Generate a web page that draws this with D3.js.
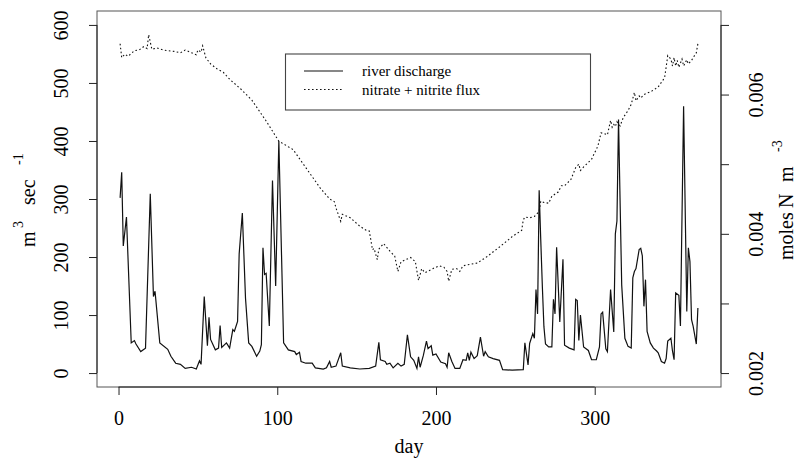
<!DOCTYPE html>
<html>
<head>
<meta charset="utf-8">
<script src="https://cdn.jsdelivr.net/npm/d3@7"></script>
<style>
  body { margin: 0; background: #fff; }
  svg, svg text { font-family: "Liberation Serif", "Times New Roman", serif; }
</style>
</head>
<body>
<svg id="chart" width="799" height="461"></svg>
<script>
// river discharge, m3 sec-1 (left axis)
var dischargeDays = [1, 2, 3, 5, 8, 10, 11, 14, 17, 20, 22, 23, 26, 31, 33, 36, 39, 42, 46, 49,
    51, 52, 54, 56, 57, 58, 61, 63, 64, 65, 68, 70, 72, 73, 75, 76, 78, 80, 82, 84,
    87, 89, 90, 91, 92, 93, 95, 97, 99, 101, 104, 107, 111, 112, 114, 115, 118, 122, 124, 129,
    131, 133, 134, 137, 140, 141, 146, 152, 158, 162, 164, 165, 168, 169, 171, 173, 176, 178, 180, 182,
    184, 186, 188, 189, 190, 192, 194, 195, 197, 198, 200, 203, 206, 207, 208, 210, 212, 215, 217, 219,
    220, 221, 222, 224, 226, 228, 230, 231, 233, 236, 240, 242, 248, 255, 256, 258, 259, 261, 262, 263,
    264, 265, 266, 267, 268, 269, 271, 273, 274, 275, 276, 278, 280, 281, 284, 287, 288, 289, 290, 291,
    293, 296, 298, 301, 303, 304, 305, 307, 308, 310, 312, 313, 314, 315, 317, 319, 321, 323, 324, 325,
    326, 328, 329, 330, 331, 332, 333, 335, 337, 339, 340, 342, 344, 345, 346, 348, 349, 350, 351, 353,
    354, 356, 358, 359, 360, 361, 362, 364, 365]
var dischargeVals = [302, 346, 219, 269, 52, 56, 50, 37, 43, 309, 132, 141, 52, 41, 29, 17, 15, 8, 10, 7,
    21, 15, 132, 47, 96, 58, 40, 43, 82, 44, 52, 43, 75, 72, 89, 205, 276, 129, 52, 46,
    29, 38, 49, 216, 170, 172, 81, 332, 150, 400, 52, 40, 37, 32, 36, 20, 17, 17, 9, 7,
    9, 20, 10, 12, 35, 12, 9, 7, 8, 12, 53, 23, 20, 15, 17, 9, 17, 12, 15, 66,
    28, 22, 8, 28, 10, 30, 55, 42, 47, 31, 33, 19, 16, 10, 35, 20, 8, 8, 23, 22,
    35, 22, 36, 25, 30, 62, 29, 37, 28, 25, 22, 6, 5, 6, 52, 14, 51, 68, 60, 144,
    102, 315, 230, 150, 80, 50, 45, 45, 127, 102, 217, 88, 196, 48, 43, 40, 127, 125, 56, 100,
    45, 39, 23, 23, 45, 102, 105, 42, 37, 144, 71, 240, 262, 437, 152, 60, 46, 43, 164, 175,
    180, 213, 215, 202, 115, 161, 72, 52, 43, 38, 35, 20, 17, 25, 55, 60, 38, 23, 138, 134,
    81, 460, 106, 216, 192, 92, 81, 50, 112]

// nitrate + nitrite flux, moles N m-3 (right axis)
var nitrateDays = [1, 2, 4, 6, 10, 13, 16, 18, 19, 21, 24, 28, 35, 39, 42, 46, 49, 50, 52, 53,
    55, 58, 62, 66, 70, 77, 84, 93, 101, 110, 118, 127, 133, 136, 137, 140, 141, 146, 152, 156,
    158, 160, 161, 163, 164, 167, 171, 174, 176, 178, 181, 184, 187, 189, 191, 193, 198, 202, 205, 207,
    208, 210, 213, 215, 217, 221, 226, 232, 240, 248, 254, 255, 256, 259, 262, 265, 266, 268, 271, 273,
    277, 279, 281, 285, 288, 290, 291, 293, 298, 302, 304, 306, 308, 310, 311, 312, 313, 314, 316, 318,
    321, 323, 325, 326, 328, 329, 331, 336, 340, 344, 345, 346, 348, 349, 350, 351, 352, 353, 355, 356,
    358, 359, 361, 362, 364, 365]
var nitrateVals = [0.00673, 0.00653, 0.00658, 0.00655, 0.00663, 0.00664, 0.00669, 0.00666, 0.00686, 0.00665,
    0.00667, 0.00664, 0.00662, 0.00660, 0.00664, 0.00660, 0.00657, 0.00664, 0.00661, 0.00670,
    0.00653, 0.00644, 0.00637, 0.00632, 0.00622, 0.00608, 0.00592, 0.00562, 0.00533, 0.00521,
    0.00495, 0.00466, 0.00450, 0.00446, 0.00437, 0.00418, 0.00428, 0.00423, 0.00411, 0.00405,
    0.00404, 0.00377, 0.00379, 0.00363, 0.00378, 0.00386, 0.00375, 0.00368, 0.00346, 0.00360,
    0.00363, 0.00366, 0.00360, 0.00333, 0.00350, 0.00344, 0.00350, 0.00354, 0.00352, 0.00346,
    0.00332, 0.00349, 0.00350, 0.00346, 0.00354, 0.00356, 0.00358, 0.00367, 0.00381, 0.00396,
    0.00405, 0.00420, 0.00424, 0.00423, 0.00425, 0.00432, 0.00447, 0.00445, 0.00444, 0.00454,
    0.00460, 0.00469, 0.00469, 0.00478, 0.00495, 0.00500, 0.00491, 0.00496, 0.00507, 0.00526,
    0.00545, 0.00544, 0.00542, 0.00563, 0.00553, 0.00557, 0.00554, 0.00561, 0.00555, 0.00567,
    0.00577, 0.00586, 0.00603, 0.00591, 0.00598, 0.00595, 0.00600, 0.00605, 0.00611, 0.00624,
    0.00639, 0.00656, 0.00651, 0.00641, 0.00653, 0.00641, 0.00649, 0.00639, 0.00651, 0.00641,
    0.00650, 0.00644, 0.00649, 0.00653, 0.00660, 0.00673]

var xTicks = [0, 100, 200, 300]
var yTicks = [0, 100, 200, 300, 400, 500, 600]
var rightTicks = [0.002, 0.003, 0.004, 0.005, 0.006, 0.007]
var legendLabels = ['river discharge', 'nitrate + nitrite flux']

const box = { left: 97, right: 721, top: 11, bottom: 387 };
const serif = '"Liberation Serif", "Times New Roman", serif'

var svg = d3.select('#chart')

// R style 4% padding around the data ranges
var xScale = d3.scaleLinear()
    .domain([1 - 0.04 * 364, 365 + 0.04 * 364])
    .range([box.left, box.right])

var yScale = d3.scaleLinear()
    .domain([0 - 0.04 * 600, 600 + 0.04 * 600])
    .range([box.bottom, box.top])

var yRight = d3.scaleLinear()
    .domain([0.002 - 0.04 * 0.005, 0.007 + 0.04 * 0.005])
    .range([box.bottom, box.top])

var discharge = dischargeDays.map((d, i) => ({ day: d, v: dischargeVals[i] }))
var nitrate = nitrateDays.map((d, i) => ({ day: d, v: nitrateVals[i] }))

// plot frame
svg.append('rect')
    .attr('x', box.left)
    .attr('y', box.top)
    .attr('width', box.right - box.left)
    .attr('height', box.bottom - box.top)
    .attr('fill', 'none')
    .attr('stroke', '#555')
    .attr('stroke-width', 1)

// lines
var lineQ = d3.line().x(d => xScale(d.day)).y(d => yScale(d.v))
var lineN = d3.line().x(d => xScale(d.day)).y(d => yRight(d.v))

svg.append('path')
    .datum(discharge)
    .attr('d', lineQ)
    .attr('fill', 'none')
    .attr('stroke', '#111')
    .attr('stroke-width', 1.2)

svg.append('path')
    .datum(nitrate)
    .attr('d', lineN)
    .attr('fill', 'none')
    .attr('stroke', '#111')
    .attr('stroke-width', 1.1)
    .attr('stroke-dasharray', '1.6,2.4')

function styleAxis(g) {
    g.attr('font-family', serif).attr('font-size', 20)
    g.selectAll('text').attr('fill', '#000').attr('font-family', serif)
    g.selectAll('line').attr('stroke', '#222')
    g.select('.domain').attr('stroke', '#222')
}

// x axis
var gx = svg.append('g')
    .attr('transform', 'translate(0,' + box.bottom + ')')
    .call(d3.axisBottom(xScale).tickValues(xTicks).tickSize(8).tickSizeOuter(0).tickPadding(16))
gx.select('.domain').attr('d', 'M' + xScale(xTicks[0]) + ',0H' + xScale(xTicks[xTicks.length - 1]))
styleAxis(gx)

// left axis, labels parallel to the axis
var gy = svg.append('g')
    .attr('transform', 'translate(' + box.left + ',0)')
    .call(d3.axisLeft(yScale).tickValues(yTicks).tickSize(8).tickSizeOuter(0))
gy.select('.domain').attr('d', 'M0,' + yScale(yTicks[0]) + 'V' + yScale(yTicks[yTicks.length - 1]))
gy.selectAll('.tick text')
    .attr('x', null).attr('dy', null)
    .attr('text-anchor', 'middle')
    .attr('transform', 'translate(-29,0) rotate(-90)')
styleAxis(gy)

// right axis, only every second label fits
var gr = svg.append('g')
    .attr('transform', 'translate(' + box.right + ',0)')
    .call(d3.axisRight(yRight).tickValues(rightTicks).tickSize(8).tickSizeOuter(0)
        .tickFormat(d => Math.round(d * 1000) % 2 == 0 ? d.toFixed(3) : ''))
gr.select('.domain').attr('d', 'M0,' + yRight(rightTicks[0]) + 'V' + yRight(rightTicks[rightTicks.length - 1]))
gr.selectAll('.tick text')
    .attr('x', null).attr('dy', null)
    .attr('text-anchor', 'middle')
    .attr('transform', 'translate(42,0) rotate(-90)')
styleAxis(gr)

// axis titles
svg.append('text')
    .attr('x', (box.left + box.right) / 2)
    .attr('y', 453)
    .attr('text-anchor', 'middle')
    .style('font-size', '20px')
    .text('day')

function rotatedTitle(x, y, parts) {
    var g = svg.append('g').attr('transform', 'translate(' + x + ',' + y + ') rotate(-90)')
    parts.forEach(p => {
        g.append('text')
            .attr('x', p[1])
            .attr('y', p[2])
            .style('font-size', p[3] + 'px')
            .text(p[0])
    })
}

rotatedTitle(35, 247, [['m', 0, 0, 20], ['3', 19, -12, 14], ['sec', 42, 0, 20], ['-1', 82, -12, 14]])
rotatedTitle(793, 260, [['moles', 0, 0, 20], ['N', 52, 0, 20], ['m', 78, 0, 20], ['-3', 108, -11, 14]])

// legend
var legend = svg.append('g')
legend.append('rect')
    .attr('x', 285.5).attr('y', 54)
    .attr('width', 305).attr('height', 56)
    .attr('fill', '#fff')
    .attr('stroke', '#444')
    .attr('stroke-width', 1.1)

legendLabels.forEach((lab, i) => {
    var ly = 71 + i * 18.5
    legend.append('line')
        .attr('x1', 304).attr('x2', 343)
        .attr('y1', ly).attr('y2', ly)
        .attr('stroke', '#111')
        .attr('stroke-width', 1.1)
        .attr('stroke-dasharray', i == 1 ? '1.6,2.4' : null)
    legend.append('text')
        .attr('x', 362)
        .attr('y', ly + 5.2)
        .style('font-size', '15px')
        .text(lab)
})
</script>
</body>
</html>
